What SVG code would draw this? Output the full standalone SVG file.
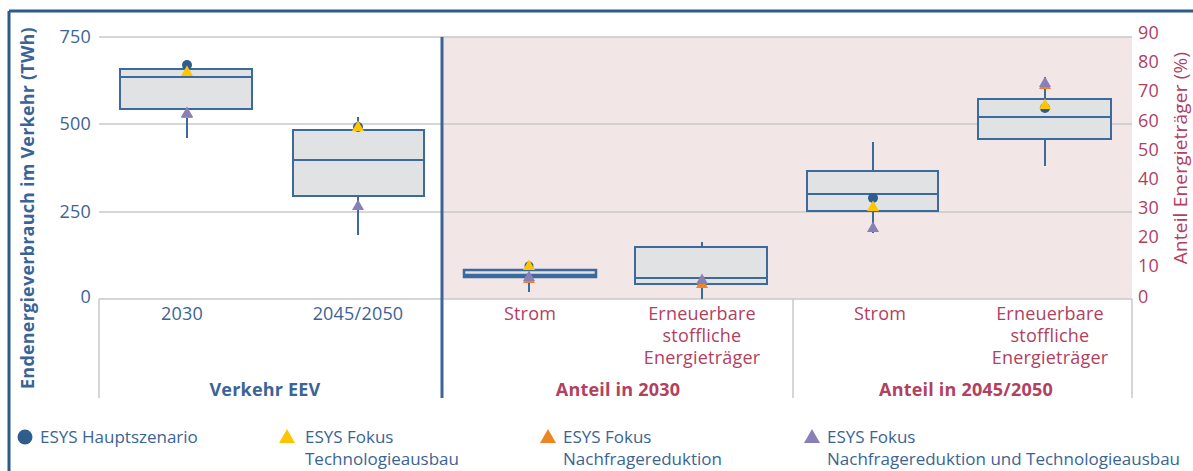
<svg xmlns="http://www.w3.org/2000/svg" width="1193" height="471" viewBox="0 0 1193 471">
<style>
text{font-family:"Open Sans","Liberation Sans",sans-serif;font-size:18px;letter-spacing:0.2px}
.b{fill:#3b6496}
.r{fill:#b2405f}
.bold{font-weight:bold}
.lg{font-size:17px;letter-spacing:0}
.grid{stroke:#c9c9c9;stroke-width:1.5;fill:none}
.box{fill:#e1e2e4;stroke:#3d6a9d;stroke-width:2}
.wh{stroke:#3d6a9d;stroke-width:2;fill:none}
.dot{fill:#2f5d8d}
.ty{fill:#ffc600}
.to{fill:#ee8424}
.tp{fill:#8a80b8}
</style>
<defs>
<path id="tri" d="M0,-5.5 L6,5 L-6,5 Z"/>
<path id="ltri" d="M0,-7 L8,7 L-8,7 Z"/>
</defs>
<g id="frame">
<line x1="9" y1="11" x2="1193" y2="11" stroke="#2e5a8a" stroke-width="3"/>
<line x1="9" y1="11" x2="9" y2="471" stroke="#2e5a8a" stroke-width="3"/>
</g>
<g id="plot-bg">
<rect x="442" y="37" width="690" height="262" fill="#f2e6e6"/>
</g>
<g id="gridlines">
<line class="grid" x1="99" y1="37" x2="1132" y2="37"/>
<line class="grid" x1="99" y1="124" x2="1132" y2="124"/>
<line class="grid" x1="99" y1="212" x2="1132" y2="212"/>
<line class="grid" x1="99" y1="299" x2="1132" y2="299"/>
<line class="grid" x1="99" y1="299" x2="99" y2="398"/>
<line class="grid" x1="793" y1="299" x2="793" y2="398"/>
<line class="grid" x1="1132" y1="299" x2="1132" y2="398"/>
<line x1="442" y1="37" x2="442" y2="398" stroke="#3a6596" stroke-width="3"/>
</g>
<g id="left-axis">
<text class="b" x="91" y="43" text-anchor="end">750</text>
<text class="b" x="91" y="130" text-anchor="end">500</text>
<text class="b" x="91" y="218" text-anchor="end">250</text>
<text class="b" x="91" y="303" text-anchor="end">0</text>
<text class="b bold" transform="translate(34,208) rotate(-90)" text-anchor="middle" style="font-size:18px">Endenergieverbrauch im Verkehr (TWh)</text>
</g>
<g id="right-axis">
<text class="r" x="1138" y="39">90</text>
<text class="r" x="1138" y="68">80</text>
<text class="r" x="1138" y="97">70</text>
<text class="r" x="1138" y="127">60</text>
<text class="r" x="1138" y="156">50</text>
<text class="r" x="1138" y="185">40</text>
<text class="r" x="1138" y="214">30</text>
<text class="r" x="1138" y="243">20</text>
<text class="r" x="1138" y="272">10</text>
<text class="r" x="1138" y="303">0</text>
<text class="r" transform="translate(1187,158) rotate(-90)" text-anchor="middle" style="font-size:19px">Anteil Energieträger (%)</text>
</g>
<g id="box-2030">
<line class="wh" x1="187" y1="109" x2="187" y2="138"/>
<rect class="box" x="120" y="69" width="132" height="40"/>
<line class="wh" x1="120" y1="77" x2="252" y2="77"/>
<circle class="dot" cx="187" cy="65" r="5"/>
<use href="#tri" class="ty" x="187" y="71"/>
<use href="#tri" class="to" x="187" y="113"/>
<use href="#tri" class="tp" x="187" y="112"/>
</g>
<g id="box-2045">
<line class="wh" x1="358" y1="117" x2="358" y2="130"/>
<line class="wh" x1="358" y1="196" x2="358" y2="235"/>
<rect class="box" x="293" y="130" width="131" height="66"/>
<line class="wh" x1="293" y1="160" x2="424" y2="160"/>
<circle class="dot" cx="358" cy="127" r="5"/>
<use href="#tri" class="ty" x="358" y="126"/>
<use href="#tri" class="tp" x="358" y="205"/>
</g>
<g id="box-strom-2030">
<line class="wh" x1="529" y1="277" x2="529" y2="292"/>
<rect class="box" x="464" y="270" width="132" height="7" style="stroke-width:2.5"/>
<line class="wh" x1="464" y1="275" x2="596" y2="275" style="stroke-width:2.5"/>
<circle class="dot" cx="529" cy="266" r="4.5"/>
<use href="#tri" class="ty" x="529" y="265"/>
<use href="#tri" class="to" x="529" y="278"/>
<use href="#tri" class="tp" x="529" y="276"/>
</g>
<g id="box-ee-2030">
<line class="wh" x1="702" y1="242" x2="702" y2="247"/>
<line class="wh" x1="702" y1="284" x2="702" y2="299"/>
<rect class="box" x="635" y="247" width="132" height="37"/>
<line class="wh" x1="635" y1="278" x2="767" y2="278"/>
<use href="#tri" class="to" x="702" y="283"/>
<use href="#tri" class="tp" x="702" y="279"/>
</g>
<g id="box-strom-2045">
<line class="wh" x1="873" y1="142" x2="873" y2="171"/>
<line class="wh" x1="873" y1="211" x2="873" y2="233"/>
<rect class="box" x="807" y="171" width="131" height="40"/>
<line class="wh" x1="807" y1="194" x2="938" y2="194"/>
<circle class="dot" cx="873" cy="198" r="5"/>
<use href="#tri" class="ty" x="873" y="206"/>
<use href="#tri" class="tp" x="873" y="227"/>
</g>
<g id="box-ee-2045">
<line class="wh" x1="1045" y1="77" x2="1045" y2="99"/>
<line class="wh" x1="1045" y1="139" x2="1045" y2="166"/>
<rect class="box" x="978" y="99" width="133" height="40"/>
<line class="wh" x1="978" y1="117" x2="1111" y2="117"/>
<circle class="dot" cx="1045" cy="108" r="5"/>
<use href="#tri" class="ty" x="1045" y="104"/>
<use href="#tri" class="to" x="1045" y="84"/>
<use href="#tri" class="tp" x="1045" y="82"/>
</g>
<g id="category-labels">
<text class="b" x="182" y="320" text-anchor="middle">2030</text>
<text class="b" x="358" y="320" text-anchor="middle">2045/2050</text>
<text class="r" x="530" y="320" text-anchor="middle">Strom</text>
<text class="r" x="702" y="320" text-anchor="middle">Erneuerbare</text>
<text class="r" x="702" y="342" text-anchor="middle">stoffliche</text>
<text class="r" x="702" y="364" text-anchor="middle">Energieträger</text>
<text class="r" x="880" y="320" text-anchor="middle">Strom</text>
<text class="r" x="1050" y="320" text-anchor="middle">Erneuerbare</text>
<text class="r" x="1050" y="342" text-anchor="middle">stoffliche</text>
<text class="r" x="1050" y="364" text-anchor="middle">Energieträger</text>
<text class="b bold" x="265" y="396" text-anchor="middle">Verkehr EEV</text>
<text class="r bold" x="618" y="396" text-anchor="middle">Anteil in 2030</text>
<text class="r bold" x="966" y="396" text-anchor="middle">Anteil in 2045/2050</text>
</g>
<g id="legend">
<circle class="dot" cx="25" cy="437" r="7.5"/>
<text class="b lg" x="40" y="443">ESYS Hauptszenario</text>
<use href="#ltri" class="ty" x="287" y="436"/>
<text class="b lg" x="305" y="443">ESYS Fokus</text>
<text class="b lg" x="305" y="465">Technologieausbau</text>
<use href="#ltri" class="to" x="548" y="436"/>
<text class="b lg" x="563" y="443">ESYS Fokus</text>
<text class="b lg" x="563" y="465">Nachfragereduktion</text>
<use href="#ltri" class="tp" x="812" y="436"/>
<text class="b lg" x="827" y="443">ESYS Fokus</text>
<text class="b lg" x="827" y="465">Nachfragereduktion und Technologieausbau</text>
</g>
</svg>
